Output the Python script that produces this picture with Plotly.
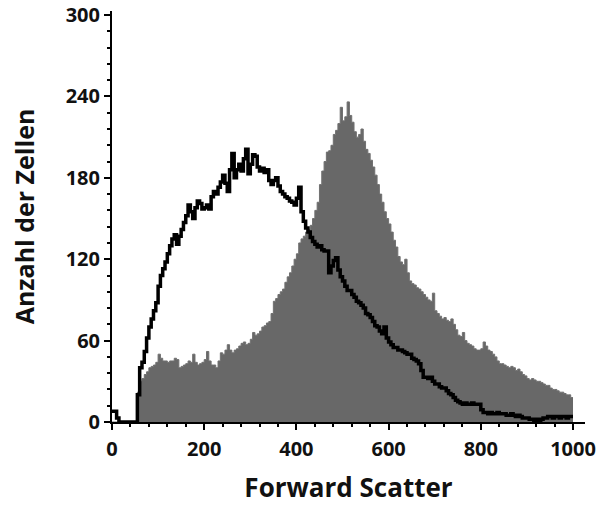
import plotly.graph_objects as go

# Histogram bins: channel width 5, from 0 to 1000
bin_width = 5
bin_left = [i * bin_width for i in range(200)]

# Gray filled histogram (counts per bin)
gray_counts = [
    0, 0, 0, 0, 0, 0, 0, 0, 0, 0, 0, 22, 30, 32, 35, 37, 40, 41, 42, 44,
    50, 47, 45, 45, 44, 45, 45, 47, 46, 40, 41, 42, 43, 45, 44, 50, 44, 42, 43, 44,
    46, 52, 45, 42, 42, 40, 45, 51, 50, 53, 57, 53, 51, 53, 54, 56, 58, 59, 57, 58,
    61, 66, 64, 65, 67, 70, 71, 73, 74, 80, 89, 91, 94, 96, 98, 103, 107, 110, 115, 120,
    124, 132, 135, 137, 140, 142, 145, 150, 156, 162, 175, 185, 192, 199, 200, 204, 212, 215, 220, 232,
    222, 225, 236, 226, 221, 214, 210, 212, 216, 207, 201, 198, 193, 188, 182, 175, 168, 162, 155, 150,
    146, 140, 134, 129, 122, 118, 116, 120, 110, 104, 102, 101, 99, 98, 96, 94, 92, 90, 89, 95,
    82, 80, 78, 76, 77, 75, 74, 76, 72, 68, 64, 63, 66, 60, 58, 57, 56, 54, 53, 53,
    54, 59, 56, 53, 52, 50, 48, 45, 43, 43, 42, 41, 40, 41, 40, 38, 39, 37, 35, 34,
    32, 31, 32, 31, 30, 30, 29, 28, 27, 27, 25, 24, 24, 23, 22, 22, 21, 20, 20, 18,
]

# Black outlined histogram (counts per bin)
black_counts = [
    8, 8, 3, 0, 0, 0, 0, 0, 0, 0, 0, 20, 40, 44, 52, 62, 70, 76, 82, 88,
    100, 108, 113, 118, 124, 130, 135, 138, 131, 137, 142, 147, 152, 160, 155, 150, 158, 163, 161, 157,
    158, 160, 157, 166, 170, 168, 173, 177, 182, 176, 170, 186, 198, 180, 186, 190, 185, 194, 201, 183,
    190, 197, 196, 188, 185, 187, 184, 186, 178, 175, 178, 180, 174, 170, 168, 166, 165, 163, 162, 160,
    165, 173, 155, 148, 143, 140, 136, 133, 131, 129, 130, 127, 126, 126, 110, 115, 119, 121, 112, 107,
    104, 100, 97, 97, 94, 92, 89, 88, 86, 84, 80, 79, 77, 74, 71, 70, 67, 65, 70, 62,
    59, 57, 55, 55, 53, 53, 52, 51, 50, 50, 47, 46, 45, 43, 38, 33, 33, 32, 33, 30,
    28, 28, 26, 25, 25, 23, 21, 20, 18, 16, 15, 14, 13, 14, 13, 13, 14, 13, 13, 13,
    9, 7, 7, 6, 7, 6, 6, 7, 6, 6, 6, 5, 5, 6, 5, 4, 5, 4, 3, 3,
    3, 2, 2, 1, 2, 1, 2, 3, 3, 4, 4, 3, 4, 4, 3, 4, 4, 3, 4, 4,
]

x_tick_vals = [0, 200, 400, 600, 800, 1000]
y_tick_vals = [0, 60, 120, 180, 240, 300]

x_title = "Forward Scatter"
y_title = "Anzahl der Zellen"

# step coordinates: left edges plus closing right edge
x_steps = bin_left + [bin_left[-1] + bin_width]
gray_steps = gray_counts + [gray_counts[-1]]
black_steps = black_counts + [black_counts[-1]]

fig = go.Figure()
fig.add_trace(go.Scatter(
    x=x_steps, y=gray_steps, mode="lines", line_shape="hv",
    line=dict(color="#707070", width=1),
    fill="tozeroy", fillcolor="#686868", showlegend=False,
))
fig.add_trace(go.Scatter(
    x=x_steps, y=black_steps, mode="lines", line_shape="hv",
    line=dict(color="#000000", width=3.5), showlegend=False,
))

tick_font = dict(family="Open Sans", size=20, color="#111111", weight="bold")
title_font = dict(family="Open Sans", size=26, color="#111111", weight="bold")

fig.update_layout(
    width=601, height=505,
    margin=dict(l=112, r=16, t=11, b=83),
    paper_bgcolor="white", plot_bgcolor="white",
    xaxis=dict(
        range=[0, 1026], tickvals=x_tick_vals, ticks="outside", ticklen=6, tickwidth=2,
        tickcolor="#000", showline=True, linecolor="#000", linewidth=2,
        showgrid=False, zeroline=False, tickfont=tick_font, ticklabelstandoff=2,
        minor=dict(dtick=40, ticks="outside", ticklen=3, tickwidth=1.5, tickcolor="#000", showgrid=False),
        title=dict(text=x_title, font=title_font, standoff=20),
        automargin=False,
    ),
    yaxis=dict(
        range=[0, 303], tickvals=y_tick_vals, ticks="outside", ticklen=6, tickwidth=2,
        tickcolor="#000", showline=True, linecolor="#000", linewidth=2,
        showgrid=False, zeroline=False, tickfont=tick_font,
        minor=dict(dtick=12, ticks="outside", ticklen=3, tickwidth=1.5, tickcolor="#000", showgrid=False),
        title=dict(text=y_title, font=dict(family="Open Sans", size=25, color="#111111", weight="bold"), standoff=24),
        automargin=False,
    ),
)

fig.write_html("out.html")
